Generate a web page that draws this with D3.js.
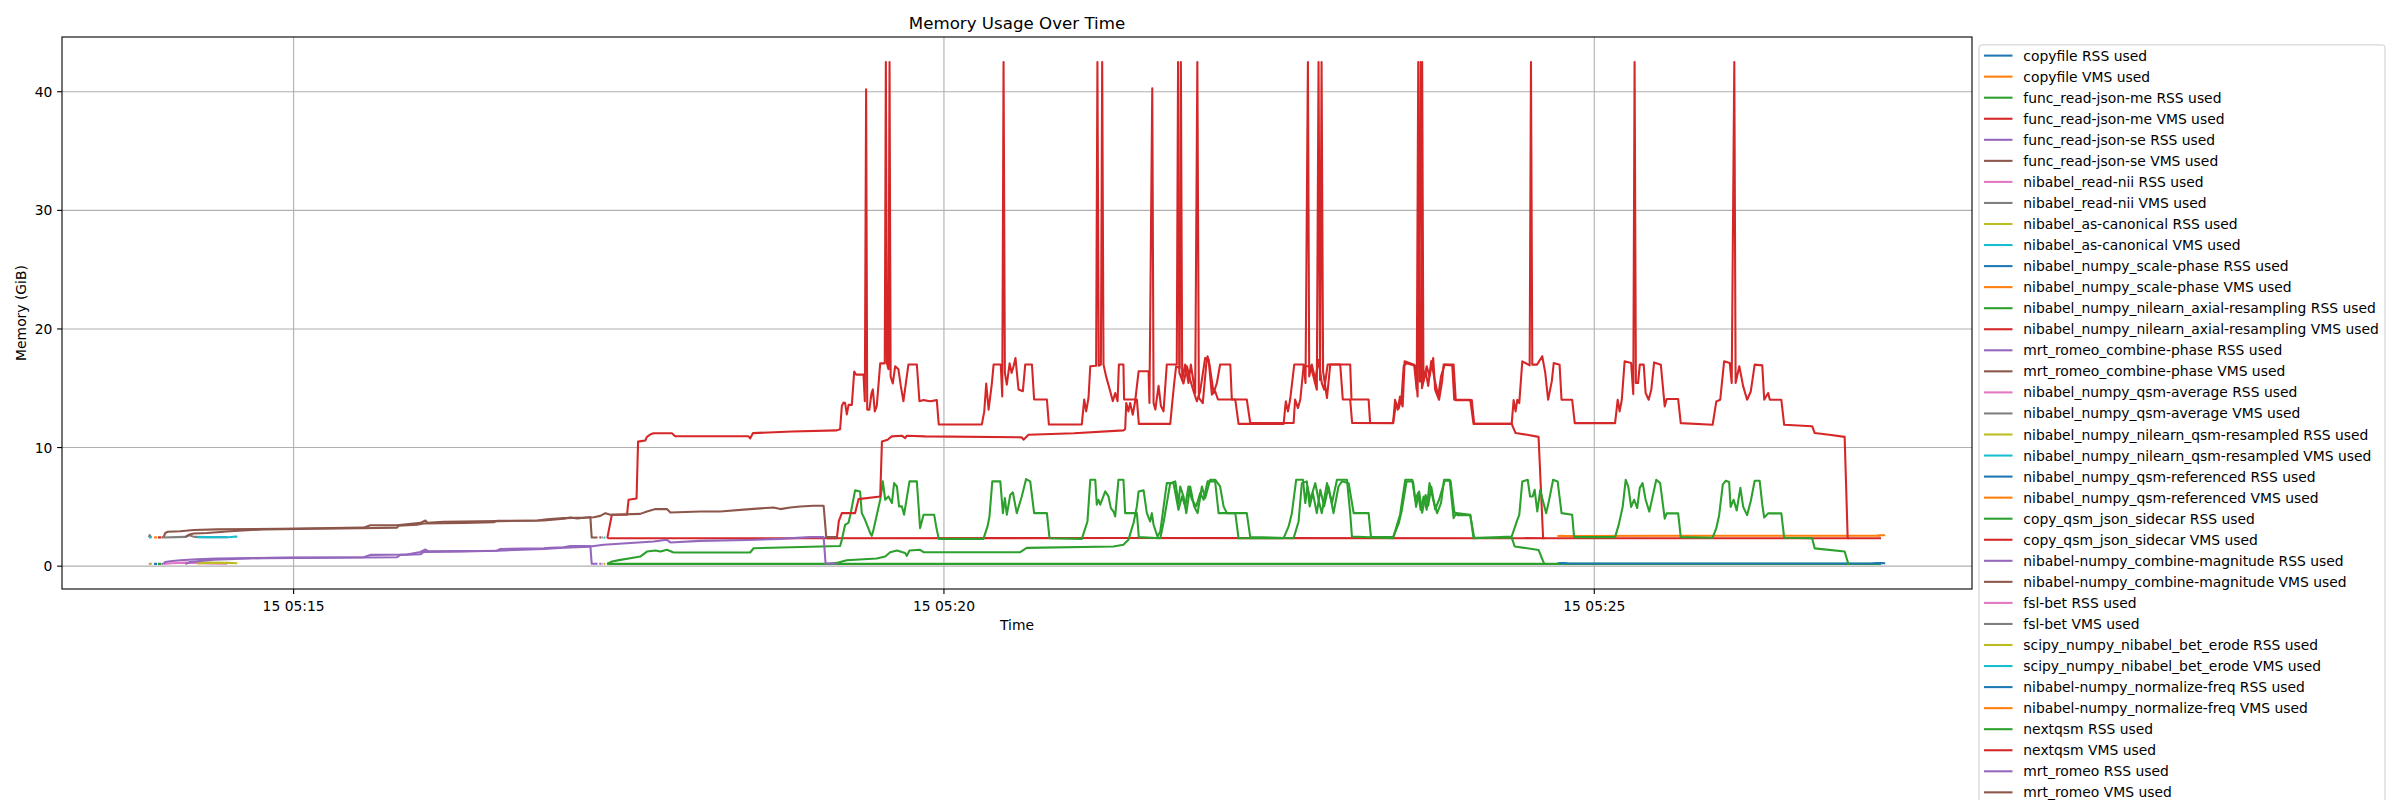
<!DOCTYPE html>
<html>
<head>
<meta charset="utf-8">
<script src="https://cdn.jsdelivr.net/npm/d3@7"></script>
<style>
  body { margin: 0; background: #ffffff; }
  text { font-family: "DejaVu Sans", sans-serif; fill: #000; }
</style>
</head>
<body>
<svg id="chart" width="2400" height="800"></svg>
<script>
// ---------------- DATA ----------------
// time = seconds after 15th 05:13:00 ; value = memory in GiB
const tasks = ["copyfile","func_read-json-me","func_read-json-se","nibabel_read-nii","nibabel_as-canonical",
  "nibabel_numpy_scale-phase","nibabel_numpy_nilearn_axial-resampling","mrt_romeo_combine-phase",
  "nibabel_numpy_qsm-average","nibabel_numpy_nilearn_qsm-resampled","nibabel_numpy_qsm-referenced",
  "copy_qsm_json_sidecar","nibabel-numpy_combine-magnitude","fsl-bet","scipy_numpy_nibabel_bet_erode",
  "nibabel-numpy_normalize-freq","nextqsm","mrt_romeo"];

const copyfileRSS = [[55.6,0.19],[56.3,0.2],[57.0,0.19]];
const copyfileVMS = [[55.6,2.42],[56.3,2.43],[57.0,2.42]];
const readJsonMeRSS = [[57.4,0.19],[58.2,0.2],[59.0,0.19]];
const readJsonMeVMS = [[57.4,2.42],[58.2,2.44],[59.0,2.42]];
const readJsonSeRSS = [[59.2,0.19],[59.8,0.19]];
const readJsonSeVMS = [[59.2,2.42],[59.8,2.43]];
const readNiiRSS = [[59.9,0.19],[64,0.25],[70,0.3],[75,0.28],[80,0.22],[89.4,0.2]];
const readNiiVMS = [[59.9,2.42],[66,2.45],[70,2.47],[72,2.6],[74,2.47],[80,2.45],[89.4,2.45]];
const asCanonicalRSS = [[75.6,0.22],[80,0.3],[90,0.28],[94,0.25]];
const asCanonicalVMS = [[75.6,2.45],[80,2.45],[90,2.44],[93.5,2.5],[94,2.46]];
const scalePhaseRSS = [[703.0,0.24],[705,0.26],[707,0.25]];
const scalePhaseVMS = [[703.0,2.55],[705,2.56],[707,2.55]];
const axialRSS = [[264.6,0.19],[500,0.19],[852.3,0.19]];
const axialVMS = [[264.7,2.36],[350,2.36],[500,2.37],[700,2.36],[852.3,2.36]];
const combinePhaseRSS = [[60.0,0.19],[60.8,0.35],[63.1,0.42],[67.7,0.5],[75.4,0.58],[84.6,0.65],[118.5,0.72],
  [152.3,0.75],[155.4,0.95],[172.3,0.98],[178.5,1.2],[180.8,1.4],[182.3,1.25],[213.8,1.3],[215.4,1.45],
  [235.4,1.5],[238.4,1.55],[244.6,1.6],[247.7,1.7],[256.9,1.7],[257.5,0.2],[260.2,0.2]];
const combinePhaseVMS = [[60.0,2.44],[60.8,2.8],[61.9,2.9],[67.7,2.95],[73.9,3.05],[84.6,3.1],[113.9,3.15],
  [152.3,3.25],[155.4,3.45],[167.7,3.45],[178.5,3.65],[180.8,3.85],[181.8,3.65],[189.2,3.75],[213.8,3.8],
  [235.4,3.85],[244.6,4.0],[247.7,4.1],[250.8,4.02],[256.9,4.15],[257.5,2.42],[260.2,2.42]];
const qsmAverageRSS = [[53.2,0.19],[53.6,0.2],[54.2,0.19]];
const qsmAverageVMS = [[53.2,2.43],[53.6,2.63],[54.2,2.43]];
const qsmResampledRSS = [[53.3,0.2],[54.0,0.21],[54.6,0.2]];
const qsmResampledVMS = [[53.3,2.42],[54.0,2.43],[54.6,2.44]];
const qsmReferencedRSS = [[704,0.22],[706,0.27],[708,0.22],[780,0.22],[848,0.22],[850,0.27],[852,0.22]];
const qsmReferencedVMS = [[704,2.55],[760,2.56],[820,2.57],[852,2.57]];
const sidecarRSS = [[264.6,0.19],[266.9,0.39],[270.7,0.53],[275.3,0.67],[279.9,0.81],[283,1.23],[286.9,1.32],
  [289.2,1.23],[292.2,1.38],[295.3,1.15],[330.6,1.15],[332.2,1.51],[372.1,1.7],
  [372.9,2.22],[374.4,3.49],[376,3.68],[377,4.47],[379,6.39],[381.3,6.3],[382.1,4.47],[383.6,3.91],[386,2.78],
  [386.7,2.56],[387.5,3.07],[390.6,5.6],[391.8,7.15],[392.9,5.6],[394.4,5.88],[396,5.32],[397,7.0],[398.3,6.72],
  [399.3,5.04],[400.6,5.04],[401.6,4.33],[404.1,7.15],[407.5,7.15],[409,3.21],[410.6,4.33],[415.5,4.33],
  [416.4,3.35],[417.6,2.3],[438.2,2.3],
  [440.1,3.35],[441,4.19],[442.3,7.15],[446,7.15],[447.2,4.47],[448.1,5.74],[449,4.33],[450.6,6.02],[451.8,6.22],
  [453.6,4.47],[455.9,5.88],[457.9,7.34],[459.8,7.15],[461.6,4.47],[467.5,4.47],[468.7,2.36],[483.6,2.3],
  [486.2,3.77],[487.5,7.29],[489.8,7.29],[490.5,5.18],[491.3,5.6],[492.1,5.18],[494.4,6.3],[495.9,5.88],[497,4.89],
  [498.2,4.61],[499,4.19],[499.8,5.88],[500.5,7.29],[502.8,7.29],[503.6,4.47],[509,4.47],[509.9,2.45],[519.8,2.36],
  [521.3,3.68],[524.4,7.0],[526.7,7.15],[528.2,5.32],[529,6.72],[530.5,5.88],[531.8,4.47],[533.6,6.72],[535.4,5.04],
  [537,4.47],[539,6.72],[540.5,5.74],[542.8,7.29],[545.1,7.29],[547.4,6.72],[549,5.04],[550.5,4.47],[559.7,4.47],
  [561.3,2.45],[581.3,2.36],
  [583.6,3.77],[585.1,7.0],[587.4,7.15],[588.7,5.04],[590.2,6.16],[592,4.47],[593.6,6.44],[595.4,5.04],[597.4,6.72],
  [599.7,4.47],[602,6.72],[603.6,7.15],[606.7,7.0],[609,4.47],[615.9,4.47],[617,2.45],[627.2,2.45],
  [629.8,3.6],[631.1,4.6],[633.4,7.14],[636.4,7.14],[637.8,5.0],[639.2,6.3],[640.6,4.5],[642.2,6.0],[643.4,5.1],
  [644.8,6.7],[646.6,4.8],[648.4,5.6],[651,7.2],[653.7,7.2],[655.4,4.6],[656.8,4.3],[662.8,4.3],[664.6,2.4],
  [681.9,2.4],[683.3,1.66],[694.3,1.37],[696.9,0.19],[697.5,0.19]];
const sidecarVMS = [[264.7,2.36],[266.8,4.33],[273.8,4.33],[274.5,5.6],[278.2,5.7],[278.9,10.5],[282.2,10.6],
  [283,10.9],[284.5,11.1],[286,11.2],[294.5,11.2],[296,10.95],[329.8,10.95],[330.6,10.77],[331.9,11.22],
  [350,11.35],[370.6,11.45],[372.1,11.55],
  [372.9,13.5],[373.7,13.8],[374.4,13.75],[375.2,12.8],[376,13.6],[377.5,13.6],[378.6,16.4],[379.5,16.15],
  [382.9,16.15],[383.5,13.9],[384.1,40.2],[384.6,13.2],[385.6,13.2],[386.6,14.6],[387.2,14.9],[388.1,13.05],
  [389,13.5],[390.6,17.1],[392.7,17.1],[393.2,42.5],[393.7,17.1],[394.4,16.6],[394.9,42.5],[395.4,16.0],
  [396.4,15.4],[397.5,16.85],[399,16.6],[400.1,15.2],[401.3,13.9],[403.6,17.0],[407.5,17.0],[408.7,13.9],
  [410.6,14.0],[413.6,13.9],[416.7,14.0],[417.6,11.95],[437.5,11.95],
  [438.6,13.05],[439.5,15.4],[440.6,13.2],[442.1,15.4],[442.9,17.0],[446.2,17.0],[446.9,14.3],[447.5,42.5],
  [448.1,16.3],[449,15.3],[450.3,17.1],[451.2,16.3],[452.1,16.85],[453,17.55],[454.4,14.9],[456.4,14.75],
  [457.5,17.0],[460.6,17.0],[461.6,14.05],[467.5,14.05],[468.4,11.95],[483.6,11.95],
  [484.7,14.05],[485.6,13.05],[486.7,14.2],[487.5,16.85],[490.2,16.9],[490.8,42.5],[491.4,16.9],[492.4,17.0],
  [493,42.5],[493.6,17.0],[494.8,16.0],[496.7,14.75],[497.9,13.9],[499,14.6],[500.1,13.9],[500.7,17.0],
  [502.8,17.0],[503.1,14.05],[509,14.05],[509.9,12.0],[524.4,12.0],
  [525.3,13.75],[526.2,15.4],[527.1,16.85],[528.7,16.7],[529.3,42.5],[529.9,15.7],[531.3,17.0],[532.8,15.44],
  [533.9,17.0],[535.9,14.6],[536.9,42.5],[537.6,14.18],[539.4,13.75],[541,17.0],[541.6,17.7],[542.5,17.0],
  [544.4,14.6],[545.9,15.44],[547.4,17.0],[552.1,17.0],[552.8,14.05],[559.7,14.05],[561.3,12.07],[581.3,12.07],
  [582.0,14.05],[583.3,13.33],[584.4,14.05],[585.9,16.85],[589,16.85],[590,16.3],[592,14.88],[592.8,42.5],
  [593.5,15.7],[594.2,42.5],[594.9,16.43],[596.7,14.18],[598.2,17.0],[607.4,17.0],[608,14.05],[615.9,14.05],
  [616.6,12.07],[627.2,12.07],
  [628.6,13.75],[629.8,13.3],[631.1,14.2],[632.1,16.9],[633.4,17.1],[637.4,16.9],[638.5,14.3],[639.9,42.5],
  [640.5,15.0],[642.2,16.4],[643.4,15.2],[644.8,17.3],[646.3,15.8],[648,14.3],[649.3,16.0],[651,17.0],
  [655.1,17.0],[656.1,14.0],[663.5,14.0],[664.6,12.0],[681.9,12.0],[683.7,11.22],[689,11.08],[694.3,10.9],
  [696.4,2.36],[697,2.36]];
const combineMagRSS = [[261.0,0.2],[261.8,0.21]];
const combineMagVMS = [[261.0,2.42],[261.8,2.43]];
const fslBetRSS = [[262.0,0.2],[262.6,0.21]];
const fslBetVMS = [[262.0,2.42],[262.6,2.43]];
const betErodeRSS = [[263.0,0.19],[263.8,0.2]];
const betErodeVMS = [[263.0,2.4],[263.8,2.41]];
const normalizeRSS = [[850.5,0.24],[852.5,0.27],[854.2,0.25]];
const normalizeVMS = [[850.5,2.58],[852.5,2.6],[854.2,2.6]];
const nextqsmRSS = [[366,0.19],[371.3,0.3],[375.2,0.5],[389,0.64],[392.9,0.82],[395.2,1.18],[398.3,1.32],
  [402.1,1.1],[402.9,0.87],[404.1,1.32],[409,1.38],[410.6,1.18],[455.2,1.18],[458.2,1.54],[498.2,1.66],[502.8,1.8],
  [505.1,2.22],[507.5,3.68],[509,5.04],[509.8,6.3],[512.1,6.39],[513.6,4.47],[515.1,3.77],[515.9,4.47],[516.7,3.49],
  [518.5,2.5],[519.8,2.93],[522.8,7.0],[525.9,7.0],[528.2,4.75],[529.8,5.88],[531.3,5.04],[532.8,6.72],[534.4,5.6],
  [536.4,5.04],[538.2,6.16],[539.8,5.6],[541.6,7.15],[545.1,7.15],[546.7,4.47],[554.4,4.47],[555.9,2.36],[576.7,2.36],
  [579,3.35],[580.5,4.47],[582.5,7.29],[585.6,7.29],[586.7,5.32],[587.7,6.72],[589,5.6],[591.3,7.0],[592.8,5.6],
  [594.3,4.47],[596.7,7.0],[599,5.32],[601.3,7.29],[605.9,7.29],[607.4,4.47],[608.2,2.5],[627.2,2.36],
  [629,3.48],[630.4,4.33],[632.8,7.28],[636,7.28],[637.4,5.59],[638.7,6.16],[639.9,4.75],[641.3,5.87],[642.7,4.75],
  [644,7.0],[645.7,5.59],[647.5,4.47],[649.3,5.31],[650.7,7.28],[653.3,7.28],[655.1,4.05],[656.3,4.47],[662.8,4.33],
  [664.3,2.36],[681.9,2.5],
  [684.5,3.9],[685.4,4.33],[686.8,7.14],[689.3,7.28],[690.4,5.87],[691.6,5.87],[692.5,6.44],[693.7,4.61],[695.1,6.44],
  [696,5.73],[697.8,4.47],[699.2,5.59],[701,7.28],[703.1,7.14],[704.9,4.47],[709.8,4.33],[710.7,2.45],[729.6,2.45],
  [731.3,3.5],[733.1,5.0],[734.5,7.28],[735.7,6.7],[737,5.0],[738.4,5.6],[739.8,4.9],[741,6.6],[742.3,7.0],
  [743.7,5.6],[745.4,4.6],[747.2,6.1],[748.6,7.28],[750.4,7.0],[752.5,4.0],[753.4,4.45],[758.7,4.45],[759.9,2.45],
  [774.6,2.4],
  [776.3,3.2],[777.6,4.3],[779.3,6.9],[780.7,7.2],[782.2,7.1],[782.9,5.0],[784.3,5.6],[785.7,4.7],[787.4,6.6],
  [788.7,5.0],[790.5,4.3],[792.2,5.5],[794,7.2],[796.3,7.2],[797.5,5.2],[798.4,4.1],[800.2,4.45],[806.3,4.45],
  [807.6,2.4],[820.5,2.36],[821.7,1.5],[835.5,1.24],[837.2,0.19],[837.8,0.19]];
const nextqsmVMS = [[366.0,2.36],[370.6,2.36],[371.5,3.8],[372.9,4.47],[379,4.47],[380.6,5.65],[390.6,5.88],
  [391.4,10.52],[394,10.66],[395.9,10.94],[400.6,11.0],[402.1,10.8],[402.9,11.0],[411.3,10.94],[455.9,10.86],
  [456.7,10.66],[459,11.08],[480,11.2],[502.8,11.45],
  [503.6,11.56],[504.1,13.75],[505.1,13.05],[505.9,13.75],[507.1,12.77],[508.2,13.9],[509.8,16.43],[514.4,16.43],
  [514.8,13.75],[516.1,40.3],[516.7,13.75],[517.5,13.2],[519,15.2],[520.1,13.5],[521.3,13.05],[522.8,17.0],
  [527.4,17.0],[528.0,42.5],[528.6,16.3],[530.5,15.4],[532.1,16.85],[533.6,15.7],[535.4,14.6],[536.7,13.9],
  [538.2,14.75],[540.5,17.55],[542.1,17.4],[543.6,14.46],[545.1,14.75],[546.4,14.05],[554.4,14.05],[555.9,12.0],
  [576.7,12.0],
  [577.7,13.9],[578.7,13.05],[579.7,14.05],[581.6,17.0],[585.9,17.0],[586.8,15.44],[587.9,42.5],[588.5,16.0],
  [589.7,17.0],[591.3,15.7],[592.8,17.4],[594.3,15.44],[595.4,14.88],[597,17.0],[602.8,17.0],[604,14.05],
  [607.4,14.05],[608.3,12.07],[627.2,12.06],
  [628.1,14.03],[629.3,13.19],[630.4,14.31],[631.6,13.47],[632.5,17.27],[636.9,16.99],[638.1,14.87],[638.8,42.5],
  [639.4,15.58],[640.1,15.58],[640.6,42.5],[641.2,15.58],[642.7,16.85],[644,16.0],[645.7,17.55],[646.6,14.87],
  [648.4,14.03],[649.8,15.58],[650.5,16.99],[654.5,16.93],[655.4,14.03],[662.8,14.03],[664.3,12.0],[681.9,12.0],
  [682.8,14.0],[683.7,13.05],[684.5,14.03],[685.4,13.75],[686.8,17.27],[690.2,16.93],[690.8,42.5],[691.4,16.99],
  [693.6,16.99],[696,17.7],[697.4,16.3],[698.7,14.03],[700.4,15.58],[701.3,17.13],[704,16.99],[704.9,14.03],
  [709.8,14.03],[711,12.06],[729.6,12.06],
  [730.8,14.03],[731.7,13.05],[732.7,14.03],[734,17.27],[737,17.13],[738,14.5],[738.6,42.5],[739.2,15.44],
  [740.2,15.44],[741,16.99],[742.8,16.99],[743.7,14.6],[745.1,14.03],[746.3,14.87],[747.6,17.18],[750.7,16.99],
  [752.5,13.47],[753.4,14.09],[758.7,14.09],[759.9,12.06],[774.6,11.92],
  [776.3,13.89],[778.1,14.03],[779.9,17.27],[782.5,17.13],[783.4,15.44],[784.6,42.5],[785.2,15.44],[786.9,16.85],
  [788.7,15.16],[790.5,14.03],[792.2,14.73],[794,16.99],[797.5,16.93],[798.4,14.03],[800.2,14.6],[801,14.03],
  [806.3,14.03],[807.6,11.92],[820.5,11.8],[821.7,11.22],[828.4,11.08],[835.5,10.9],[836.9,2.36],[837.6,2.36]];
const mrtRomeoRSS = [[70.0,0.19],[72.3,0.35],[83.1,0.55],[106.2,0.68],[152.3,0.73],[167.7,0.75],[169.2,0.95],
  [178.5,1.0],[180,1.2],[198.5,1.25],[213.8,1.3],[235.4,1.45],[244.6,1.55],[256.9,1.65],[263,1.8],[286.1,2.08],
  [292.2,2.22],[293.8,2.0],[307.6,2.13],[329.1,2.2],[344.5,2.3],[358.3,2.45],[364.5,2.45],[365.4,0.22],[370.6,0.22]];
const mrtRomeoVMS = [[70.0,2.44],[71.6,2.64],[73.9,2.75],[80,2.8],[90.8,2.95],[106.2,3.1],[130.8,3.15],[150.8,3.2],
  [167.7,3.25],[168.5,3.42],[176.9,3.5],[180,3.6],[198.5,3.65],[212.3,3.7],[213.8,3.82],[232.3,3.85],[236.9,3.95],
  [244.6,4.05],[256.9,4.1],[258.4,4.13],[261.5,4.24],[263.8,4.47],[266.1,4.33],[279.9,4.41],[283,4.61],[286.9,4.81],
  [292.2,4.81],[293.8,4.53],[307.6,4.61],[316.8,4.61],[330.6,4.81],[341.4,4.95],[344.5,4.81],[349.1,4.95],
  [353.7,5.03],[359.9,5.09],[364.5,5.09],[365.7,2.45],[370.6,2.45]];

const rssSeries = [copyfileRSS, readJsonMeRSS, readJsonSeRSS, readNiiRSS, asCanonicalRSS, scalePhaseRSS, axialRSS,
  combinePhaseRSS, qsmAverageRSS, qsmResampledRSS, qsmReferencedRSS, sidecarRSS, combineMagRSS, fslBetRSS,
  betErodeRSS, normalizeRSS, nextqsmRSS, mrtRomeoRSS];
const vmsSeries = [copyfileVMS, readJsonMeVMS, readJsonSeVMS, readNiiVMS, asCanonicalVMS, scalePhaseVMS, axialVMS,
  combinePhaseVMS, qsmAverageVMS, qsmResampledVMS, qsmReferencedVMS, sidecarVMS, combineMagVMS, fslBetVMS,
  betErodeVMS, normalizeVMS, nextqsmVMS, mrtRomeoVMS];

// ---------------- CHART ----------------
const series = [];
tasks.forEach((t, i) => {
  series.push({ label: t + " RSS used", data: rssSeries[i] });
  series.push({ label: t + " VMS used", data: vmsSeries[i] });
});
const colors = d3.schemeCategory10;
const baseTime = new Date(2024, 2, 15, 5, 13, 0);
const toDate = s => new Date(baseTime.getTime() + s * 1000);

const W = 2400, H = 800;
const plot = { left: 62, top: 37, right: 1972, bottom: 589 };
const svg = d3.select("#chart");

const allPts = series.flatMap(s => s.data);
const tExt = d3.extent(allPts, d => d[0]);
const vExt = d3.extent(allPts, d => d[1]);
const tPad = (tExt[1] - tExt[0]) * 0.05, vPad = (vExt[1] - vExt[0]) * 0.05;

const x = d3.scaleTime()
  .domain([toDate(tExt[0] - tPad), toDate(tExt[1] + tPad)])
  .range([plot.left, plot.right]);
const y = d3.scaleLinear()
  .domain([vExt[0] - vPad, vExt[1] + vPad])
  .range([plot.bottom, plot.top]);

const xTicks = x.ticks(d3.timeMinute.every(5));
const yTicks = y.ticks(5);
const fmt = d3.timeFormat("%d %H:%M");

svg.append("defs").append("clipPath").attr("id", "clip")
  .append("rect").attr("x", plot.left).attr("y", plot.top)
  .attr("width", plot.right - plot.left).attr("height", plot.bottom - plot.top);

// grid
const grid = svg.append("g");
grid.selectAll(".gx").data(xTicks).join("line")
  .attr("x1", d => x(d)).attr("x2", d => x(d)).attr("y1", plot.top).attr("y2", plot.bottom)
  .attr("stroke", "#b0b0b0").attr("stroke-width", 1.1);
grid.selectAll(".gy").data(yTicks).join("line")
  .attr("x1", plot.left).attr("x2", plot.right).attr("y1", d => y(d)).attr("y2", d => y(d))
  .attr("stroke", "#b0b0b0").attr("stroke-width", 1.1);

// lines
const line = d3.line().x(d => x(toDate(d[0]))).y(d => y(d[1]));
const lg = svg.append("g").attr("clip-path", "url(#clip)");
series.forEach((s, i) => {
  lg.append("path").datum(s.data).attr("d", line)
    .attr("fill", "none").attr("stroke", colors[i % 10]).attr("stroke-width", 2.08)
    .attr("stroke-linejoin", "round").attr("stroke-linecap", "butt");
});

// spines
svg.append("rect").attr("x", plot.left).attr("y", plot.top)
  .attr("width", plot.right - plot.left).attr("height", plot.bottom - plot.top)
  .attr("fill", "none").attr("stroke", "#000").attr("stroke-width", 1.1);

// axes ticks
const ax = svg.append("g");
ax.selectAll(".tx").data(xTicks).join("line")
  .attr("x1", d => x(d)).attr("x2", d => x(d)).attr("y1", plot.bottom).attr("y2", plot.bottom + 4.9)
  .attr("stroke", "#000").attr("stroke-width", 1.1);
ax.selectAll(".lx").data(xTicks).join("text")
  .attr("x", d => x(d)).attr("y", 610.5).attr("text-anchor", "middle")
  .attr("font-size", "13.89px").text(d => fmt(d));
ax.selectAll(".ty").data(yTicks).join("line")
  .attr("x1", plot.left - 4.9).attr("x2", plot.left).attr("y1", d => y(d)).attr("y2", d => y(d))
  .attr("stroke", "#000").attr("stroke-width", 1.1);
ax.selectAll(".ly").data(yTicks).join("text")
  .attr("x", 52.3).attr("y", d => y(d)).attr("text-anchor", "end").attr("dominant-baseline", "central")
  .attr("font-size", "13.89px").text(d => d3.format("d")(d));

// labels
svg.append("text").attr("x", (plot.left + plot.right) / 2).attr("y", 28.7)
  .attr("text-anchor", "middle").attr("font-size", "16.67px").text("Memory Usage Over Time");
svg.append("text").attr("x", (plot.left + plot.right) / 2).attr("y", 630)
  .attr("text-anchor", "middle").attr("font-size", "13.89px").text("Time");
svg.append("text").attr("transform", `translate(20.8,${(plot.top + plot.bottom) / 2}) rotate(-90)`)
  .attr("text-anchor", "middle").attr("dominant-baseline", "central")
  .attr("font-size", "13.89px").text("Memory (GiB)");

// legend
const leg = svg.append("g");
leg.append("rect").attr("x", 1979).attr("y", 44.9).attr("width", 406).attr("height", 780)
  .attr("rx", 2.8).attr("fill", "#ffffff").attr("fill-opacity", 0.8)
  .attr("stroke", "#cccccc").attr("stroke-width", 1);
series.forEach((s, i) => {
  const yy = 55.6 + 21.05 * i;
  leg.append("line").attr("x1", 1984).attr("x2", 2012.5).attr("y1", yy).attr("y2", yy)
    .attr("stroke", colors[i % 10]).attr("stroke-width", 2.08);
  leg.append("text").attr("x", 2023.3).attr("y", yy).attr("dominant-baseline", "central")
    .attr("font-size", "13.89px").text(s.label);
});
</script>
</body>
</html>
